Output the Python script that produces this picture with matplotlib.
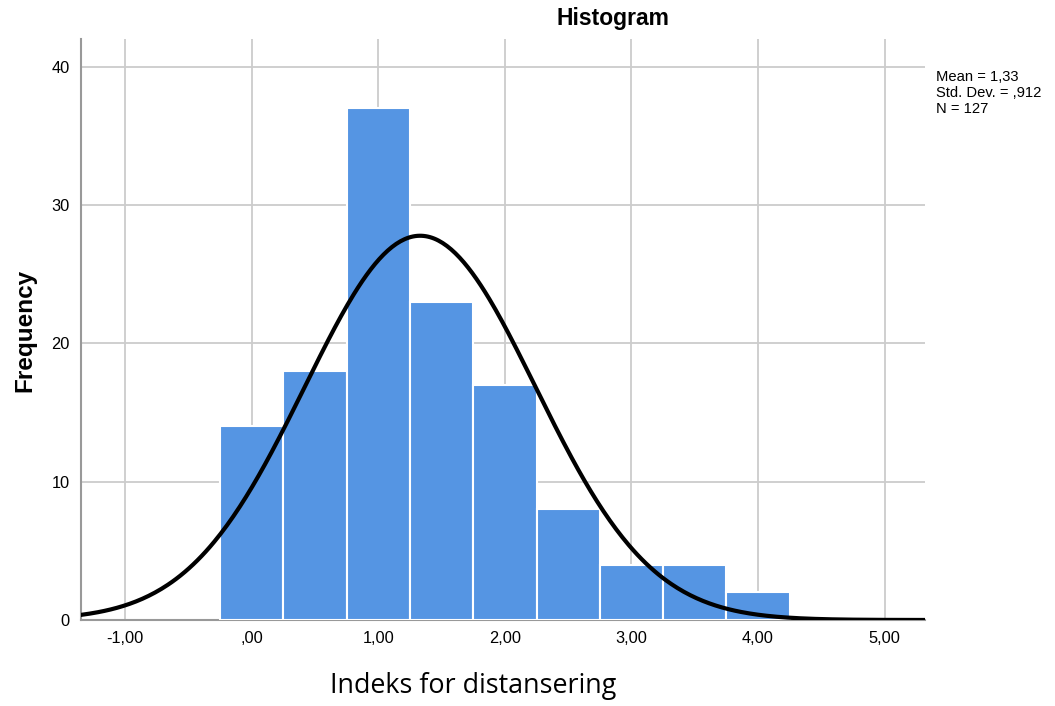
import numpy as np
import matplotlib
matplotlib.use("Agg")
import matplotlib.pyplot as plt

bin_centers = [0.0, 0.5, 1.0, 1.5, 2.0, 2.5, 3.0, 3.5, 4.0]
counts = [14, 18, 37, 23, 17, 8, 4, 4, 2]
bin_width = 0.5
mean, sd, n = 1.33, 0.912, 127
xticks = [-1, 0, 1, 2, 3, 4, 5]
xtick_labels = ["-1,00", ",00", "1,00", "2,00", "3,00", "4,00", "5,00"]
yticks = [0, 10, 20, 30, 40]

plt.rcParams['font.family'] = ['Liberation Sans', 'DejaVu Sans']
fig = plt.figure(figsize=(10.55, 7.06), dpi=100)
ax = fig.add_axes([81/1055, 1-620/706, (925-81)/1055, (620-39)/706])

ax.bar(bin_centers, counts, width=bin_width, color='#5595e3', edgecolor='white',
       linewidth=1.5, zorder=3)
xs = np.linspace(-1.35, 5.32, 400)
ys = n * bin_width / (sd * np.sqrt(2*np.pi)) * np.exp(-0.5*((xs-mean)/sd)**2)
ax.plot(xs, ys, color='black', lw=3, zorder=4)

ax.set_xlim(-1.35, 5.32)
ax.set_ylim(0, 42)
ax.set_xticks(xticks)
ax.set_xticklabels(xtick_labels)
ax.set_yticks(yticks)
ax.grid(True, color='#cccccc', lw=1.3, zorder=0)
ax.set_axisbelow(True)
for s in ['top', 'right']:
    ax.spines[s].set_visible(False)
for s in ['left', 'bottom']:
    ax.spines[s].set_color('#999999')
    ax.spines[s].set_linewidth(1.5)
ax.tick_params(length=0, labelsize=11.8, pad=8)

fig.text(613/1055, 1-19/706, "Histogram", ha='center', va='center',
         fontsize=16.5, fontweight='bold')
fig.text(25/1055, 1-330/706, "Frequency", ha='center', va='center',
         rotation=90, fontsize=17.5, fontweight='bold')
fig.text(473/1055, 1-686/706, "Indeks for distansering", ha='center', va='center',
         fontsize=19.4, family=['Open Sans', 'DejaVu Sans'])
fig.text(936/1055, 1-93/706, "Mean = 1,33\nStd. Dev. = ,912\nN = 127",
         ha='left', va='center', fontsize=10.6, linespacing=1.2)

fig.savefig("out.png", dpi=100)
